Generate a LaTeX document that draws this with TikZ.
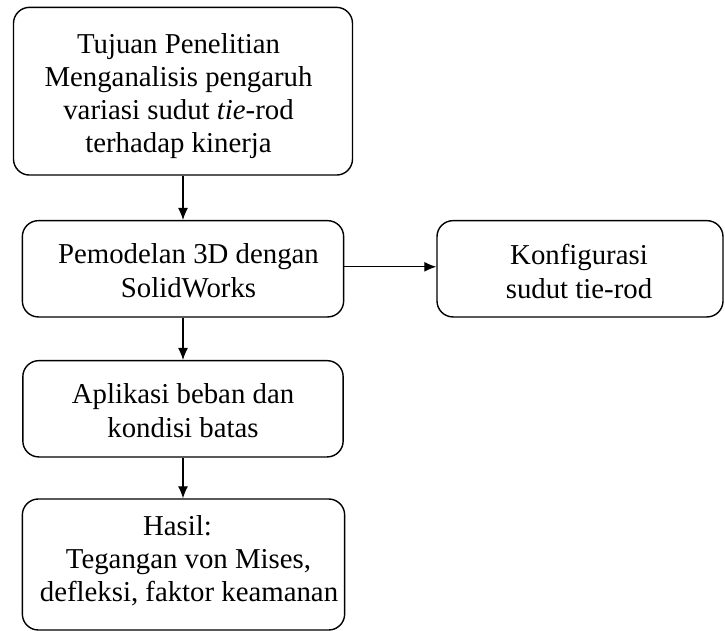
\documentclass[tikz,border=0pt]{standalone}
\usepackage{fontspec}
\setmainfont{Liberation Serif}
\usetikzlibrary{arrows.meta}
\begin{document}
\begin{tikzpicture}[x=1pt,y=-1pt,
  box/.style={draw, line width=1.4pt, rounded corners=16pt, inner sep=0pt},
  txt/.style={align=center, inner sep=0pt},
  arr/.style={-{Latex[length=12pt,width=10pt]}, line width=1.1pt}]
\useasboundingbox (0,0) rectangle (725,631);
\node[box, minimum width=339pt, minimum height=167.7pt] (b1) at (183,91.2) {};
\node[box, minimum width=321.3pt, minimum height=96.3pt] (b2) at (183,268.8) {};
\node[box, minimum width=286pt, minimum height=96.3pt] (b3) at (580,268.8) {};
\node[box, minimum width=320.3pt, minimum height=96.3pt] (b4) at (183,408.8) {};
\node[box, minimum width=322.3pt, minimum height=131pt] (b5) at (183.5,564.5) {};
\node[txt, font=\fontsize{28.8}{33}\selectfont] (t1) at (178.5,96.3) {Tujuan Penelitian\\Menganalisis pengaruh\\variasi sudut \textit{tie}-rod\\terhadap kinerja};
\node[txt, font=\fontsize{28.8}{34}\selectfont] (t2) at (188.5,271.2) {Pemodelan 3D dengan\\SolidWorks};
\node[txt, font=\fontsize{28.8}{34}\selectfont] (t3) at (579,271.2) {Konfigurasi\\sudut tie-rod};
\node[txt, font=\fontsize{28.8}{34}\selectfont] (t4) at (183,410.6) {Aplikasi beban dan\\kondisi batas};
\node[txt, font=\fontsize{28.8}{33}\selectfont] (t5) at (184,561.2) {Hasil:\hspace*{13pt}\\\hspace*{9pt}Tegangan von Mises,\\\hspace*{10pt}defleksi, faktor keamanan};
\draw[arr] (b1) -- (b2);
\draw[arr] ([yshift=2pt]b2.east) -- ([yshift=2pt]b3.west);
\draw[arr] (b2) -- (b4);
\draw[arr] (b4) -- (b4 |- b5.north);
\end{tikzpicture}
\end{document}
